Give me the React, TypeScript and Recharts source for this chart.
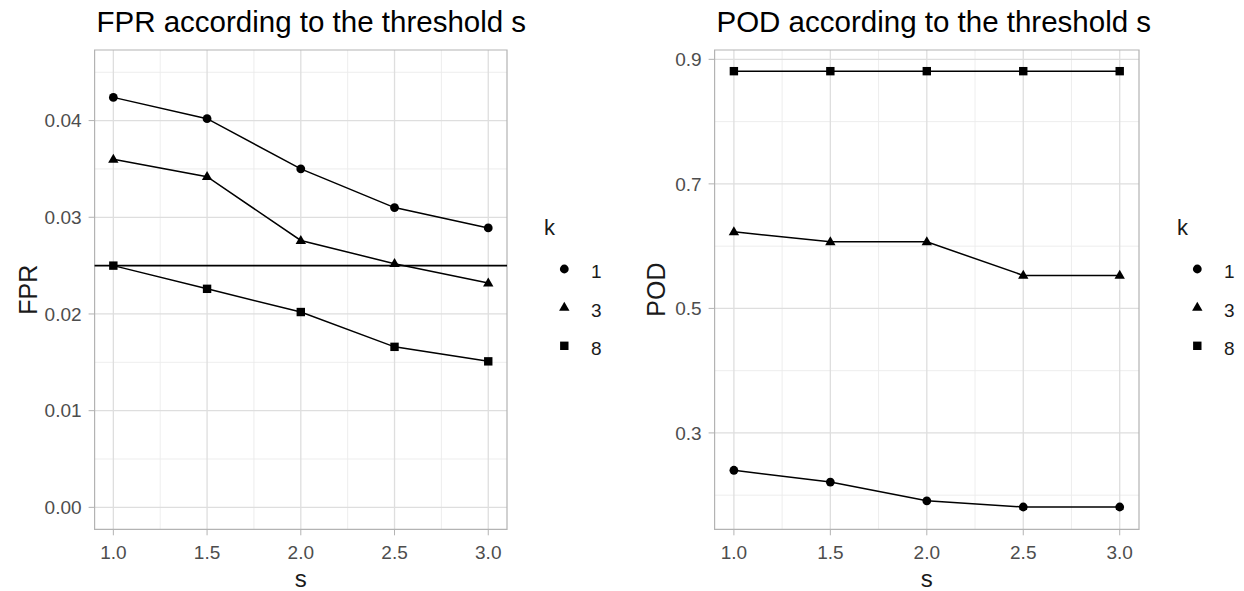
import {
  LineChart,
  Line,
  XAxis,
  YAxis,
  CartesianGrid,
  ReferenceLine,
  ReferenceArea,
  Legend,
} from "recharts";

// values
const S_VALUES = [1.0, 1.5, 2.0, 2.5, 3.0];
const K_LEVELS = ["1", "3", "8"];

const FPR_K1 = [0.0424, 0.0402, 0.035, 0.031, 0.0289];
const FPR_K3 = [0.036, 0.0342, 0.0276, 0.0252, 0.0232];
const FPR_K8 = [0.025, 0.0226, 0.0202, 0.0166, 0.0151];
const FPR_THRESHOLD = 0.025;

const POD_K1 = [0.24, 0.221, 0.191, 0.181, 0.181];
const POD_K3 = [0.623, 0.607, 0.607, 0.553, 0.553];
const POD_K8 = [0.881, 0.881, 0.881, 0.881, 0.881];

const X_MAJOR = [1, 1.5, 2, 2.5, 3];
const X_MINOR = [1.25, 1.75, 2.25, 2.75];
const FPR_MAJOR = [0, 0.01, 0.02, 0.03, 0.04];
const FPR_MINOR = [0.005, 0.015, 0.025, 0.035, 0.045];
const POD_MAJOR = [0.3, 0.5, 0.7, 0.9];
const POD_MINOR = [0.2, 0.4, 0.6, 0.8];

const FONT = "'Liberation Sans', Arial, sans-serif";
const X_DOMAIN: [number, number] = [0.9, 3.1];

const buildRows = (k1: number[], k3: number[], k8: number[]) =>
  S_VALUES.map((s, i) => ({ s, k1: k1[i], k3: k3[i], k8: k8[i] }));

const fprRows = buildRows(FPR_K1, FPR_K3, FPR_K8);
const podRows = buildRows(POD_K1, POD_K3, POD_K8);

type Shape = "circle" | "triangle" | "square";
const SHAPES: Shape[] = ["circle", "triangle", "square"];

function Marker({ cx, cy, shape }: { cx: number; cy: number; shape: Shape }) {
  if (cx == null || cy == null) return null;
  if (shape === "circle") return <circle cx={cx} cy={cy} r={4.4} fill="#000" />;
  if (shape === "triangle")
    return (
      <polygon
        points={`${cx},${cy - 5.6} ${cx - 5.2},${cy + 3.4} ${cx + 5.2},${cy + 3.4}`}
        fill="#000"
      />
    );
  return <rect x={cx - 4.2} y={cy - 4.2} width={8.4} height={8.4} fill="#000" />;
}

function KLegend() {
  return (
    <svg width={90} height={170} style={{ fontFamily: FONT }}>
      <text x={14} y={35} fontSize={22} fill="#1a1a1a">
        k
      </text>
      {K_LEVELS.map((k, i) => {
        const cy = 69 + i * 38.4;
        return (
          <g key={k}>
            <Marker cx={34.3} cy={cy} shape={SHAPES[i]} />
            <text x={61} y={cy + 9.3} fontSize={19} fill="#1a1a1a">
              {k}
            </text>
          </g>
        );
      })}
    </svg>
  );
}

type PanelProps = {
  left: number;
  width: number;
  rightMargin: number;
  title: string;
  yTitle: string;
  yTitleX: number;
  rows: ReturnType<typeof buildRows>;
  yDomain: [number, number];
  yMajor: number[];
  yMinor: number[];
  digits: number;
  hline?: number;
  legendLeft: number;
};

function Panel(p: PanelProps) {
  const tickStyle = { fill: "#4D4D4D", fontSize: 19, fontFamily: FONT };
  return (
    <div style={{ position: "absolute", left: p.left, top: 0, width: p.width, height: 591 }}>
      <div
        style={{
          position: "absolute",
          left: 96.5,
          top: 7.5,
          fontFamily: FONT,
          fontSize: 29.5,
          lineHeight: "28px",
          color: "#000",
          whiteSpace: "nowrap",
        }}
      >
        {p.title}
      </div>
      <LineChart
        width={p.width}
        height={591}
        data={p.rows}
        margin={{ top: 50, right: p.rightMargin, bottom: 0, left: 0 }}
      >
        <CartesianGrid
          horizontalValues={p.yMinor}
          verticalValues={X_MINOR}
          stroke="#EBEBEB"
          strokeWidth={0.9}
        />
        <CartesianGrid
          horizontalValues={p.yMajor}
          verticalValues={X_MAJOR}
          stroke="#DEDEDE"
          strokeWidth={1.3}
        />
        <XAxis
          dataKey="s"
          type="number"
          domain={X_DOMAIN}
          ticks={X_MAJOR}
          tickFormatter={(v: number) => v.toFixed(1)}
          height={61.7}
          axisLine={false}
          tickLine={{ stroke: "#B3B3B3" }}
          tickSize={6}
          tickMargin={10}
          tick={tickStyle}
          allowDataOverflow
          label={{
            value: "s",
            position: "insideBottom",
            offset: 4.5,
            fill: "#1a1a1a",
            fontSize: 24,
            fontFamily: FONT,
          }}
        />
        <YAxis
          type="number"
          domain={p.yDomain}
          ticks={p.yMajor}
          tickFormatter={(v: number) => v.toFixed(p.digits)}
          width={94.6}
          axisLine={false}
          tickLine={{ stroke: "#B3B3B3" }}
          tickSize={6}
          tickMargin={7}
          tick={tickStyle}
          allowDataOverflow
          label={({ viewBox }: any) => {
            const cy = viewBox.y + viewBox.height / 2;
            return (
              <text
                x={p.yTitleX}
                y={cy}
                transform={`rotate(-90, ${p.yTitleX}, ${cy})`}
                textAnchor="middle"
                dominantBaseline="central"
                fontSize={25}
                fontFamily={FONT}
                fill="#1a1a1a"
              >
                {p.yTitle}
              </text>
            );
          }}
        />
        <ReferenceArea
          x1={X_DOMAIN[0]}
          x2={X_DOMAIN[1]}
          y1={p.yDomain[0]}
          y2={p.yDomain[1]}
          fill="none"
          stroke="#B3B3B3"
          strokeWidth={1.2}
        />
        {p.hline !== undefined && (
          <ReferenceLine y={p.hline} stroke="#000" strokeWidth={1.6} />
        )}
        {["k1", "k3", "k8"].map((key, i) => (
          <Line
            key={key}
            dataKey={key}
            type="linear"
            stroke="#000"
            strokeWidth={1.5}
            isAnimationActive={false}
            activeDot={false}
            dot={(d: any) => <Marker key={`${key}-${d.index}`} cx={d.cx} cy={d.cy} shape={SHAPES[i]} />}
          />
        ))}
        <Legend
          layout="horizontal"
          verticalAlign="middle"
          align="center"
          wrapperStyle={{ left: p.legendLeft, top: 200, width: 90, height: 170 }}
          content={() => <KLegend />}
        />
      </LineChart>
    </div>
  );
}

export default function App() {
  return (
    <div
      style={{
        position: "absolute",
        left: 0,
        top: 0,
        width: 1244,
        height: 591,
        background: "#fff",
        overflow: "hidden",
      }}
    >
      <Panel
        left={0}
        width={620}
        rightMargin={113}
        title="FPR according to the threshold s"
        yTitle="FPR"
        yTitleX={28.5}
        rows={fprRows}
        yDomain={[-0.00227, 0.0473]}
        yMajor={FPR_MAJOR}
        yMinor={FPR_MINOR}
        digits={2}
        hline={FPR_THRESHOLD}
        legendLeft={530}
      />
      <Panel
        left={620}
        width={624}
        rightMargin={105}
        title="POD according to the threshold s"
        yTitle="POD"
        yTitleX={36}
        rows={podRows}
        yDomain={[0.1452, 0.915]}
        yMajor={POD_MAJOR}
        yMinor={POD_MINOR}
        digits={1}
        legendLeft={542.7}
      />
    </div>
  );
}
